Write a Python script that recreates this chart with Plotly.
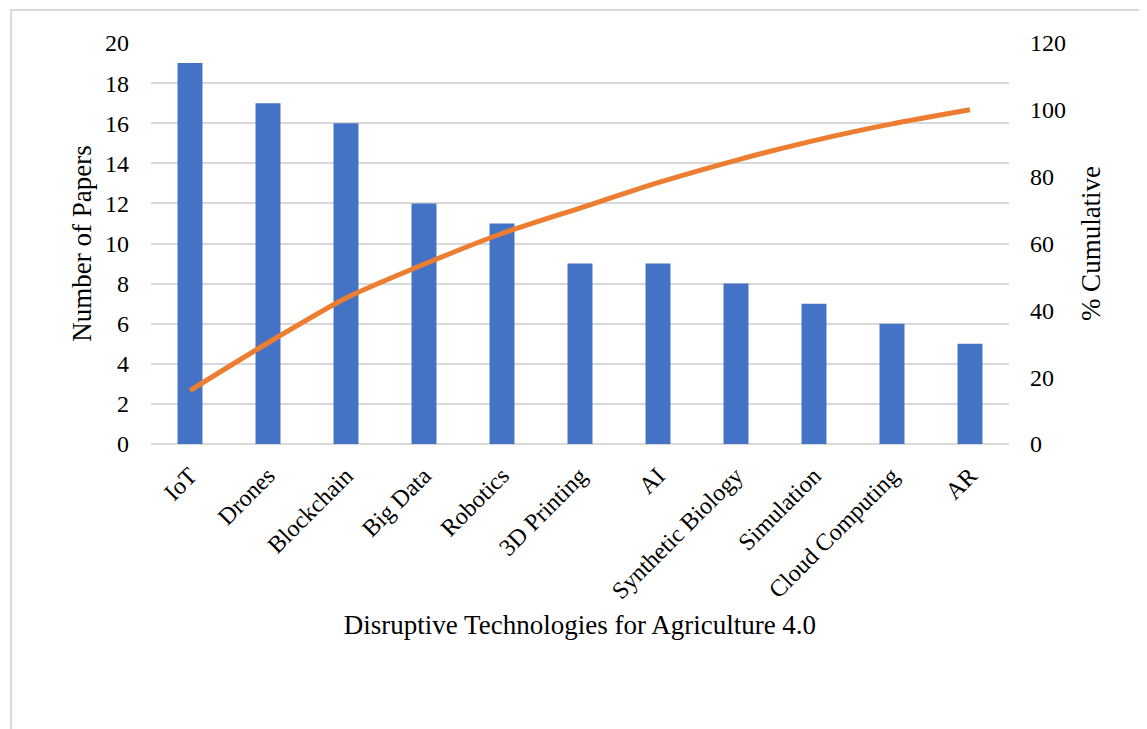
import plotly.graph_objects as go

categories = ["IoT", "Drones", "Blockchain", "Big Data", "Robotics", "3D Printing",
              "AI", "Synthetic Biology", "Simulation", "Cloud Computing", "AR"]
papers = [19, 17, 16, 12, 11, 9, 9, 8, 7, 6, 5]
cumulative_pct = [16.0, 30.3, 43.7, 53.8, 63.0, 70.6, 78.2, 84.9, 90.8, 95.8, 100.0]
left_ticks = [0, 2, 4, 6, 8, 10, 12, 14, 16, 18, 20]
right_ticks = [0, 20, 40, 60, 80, 100, 120]

FONT = "Liberation Serif"
TICK = 24
TITLE = 27
fig = go.Figure()
fig.add_trace(go.Bar(x=categories, y=papers, marker_color="#4472C4",
                     marker_line_width=0, name="Number of Papers"))
fig.add_trace(go.Scatter(x=categories, y=cumulative_pct, yaxis="y2", mode="lines",
                         line=dict(color="#ED7D31", width=5, shape="spline", smoothing=0.6),
                         name="% Cumulative"))

fig.update_layout(
    width=1147, height=729,
    margin=dict(l=143, r=146, t=35, b=293),
    paper_bgcolor="white", plot_bgcolor="white",
    showlegend=False,
    bargap=0.68,
    font=dict(family=FONT, color="black", size=TICK),
    xaxis=dict(tickangle=-45, tickfont=dict(size=TICK, family=FONT), ticklabelstandoff=12,
               title=dict(text="Disruptive Technologies for Agriculture 4.0",
                          font=dict(size=TITLE, family=FONT), standoff=12),
               showline=False, ticks=""),
    yaxis=dict(range=[0, 20], tickvals=left_ticks, showgrid=True, gridcolor="#D9D9D9",
               gridwidth=1.5, zeroline=True, zerolinecolor="#D9D9D9", zerolinewidth=1.5,
               tickfont=dict(size=TICK, family=FONT), ticklabelstandoff=21,
               title=dict(text="Number of Papers", font=dict(size=TITLE, family=FONT), standoff=5)),
    yaxis2=dict(range=[0, 120], tickvals=right_ticks, overlaying="y", side="right",
                showgrid=False, zeroline=False,
                tickfont=dict(size=TICK, family=FONT), ticklabelstandoff=20,
                title=dict(text="% Cumulative", font=dict(size=TITLE, family=FONT), standoff=16)),
)
fig.add_shape(type="rect", xref="paper", yref="paper",
              x0=-0.163, x1=1.3, y0=-1.0, y1=1.082,
              line=dict(color="#D9D9D9", width=2), fillcolor="rgba(0,0,0,0)", layer="below")
fig.write_html("out.html")
